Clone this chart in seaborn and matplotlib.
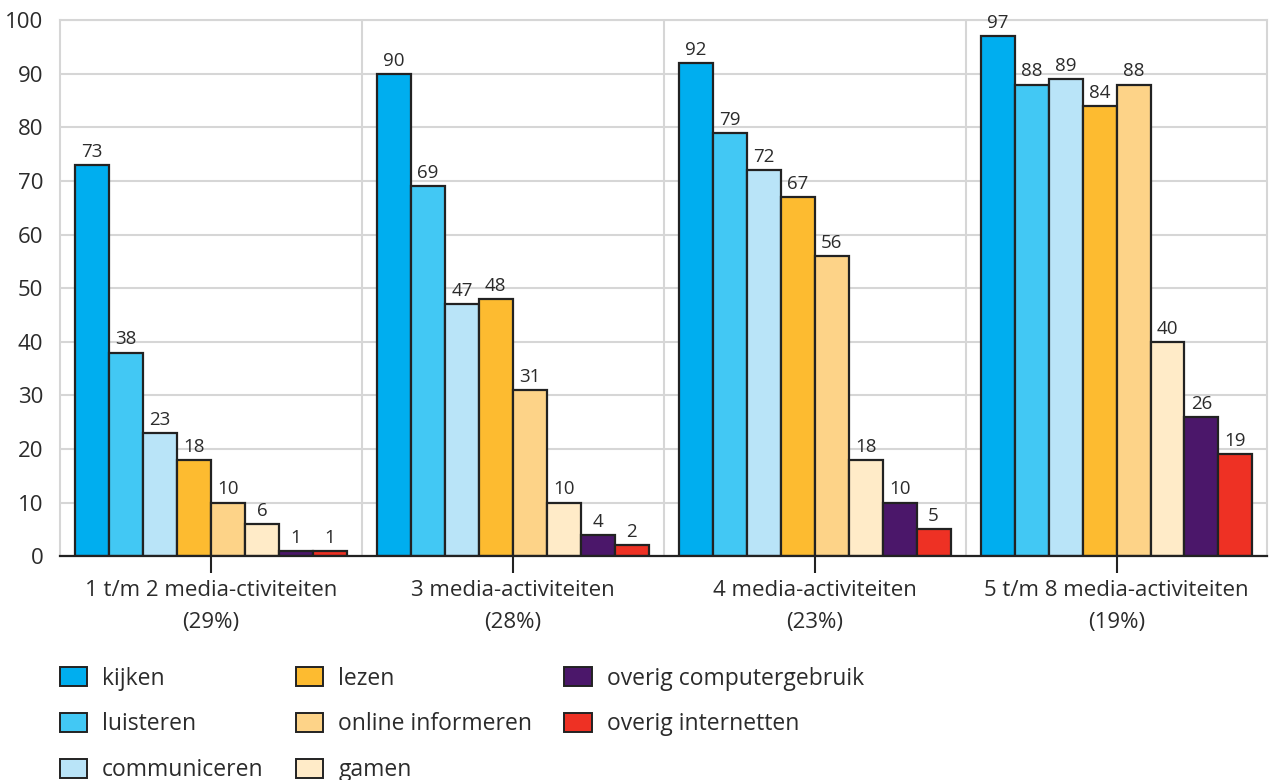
import matplotlib
matplotlib.use("Agg")
import matplotlib.pyplot as plt
from matplotlib.patches import Patch
import seaborn as sns
import pandas as pd

groups = [
    "1 t/m 2 media-ctiviteiten\n(29%)",
    "3 media-activiteiten\n(28%)",
    "4 media-activiteiten\n(23%)",
    "5 t/m 8 media-activiteiten\n(19%)",
]
series = [
    "kijken", "luisteren", "communiceren", "lezen",
    "online informeren", "gamen", "overig computergebruik", "overig internetten",
]
kijken = [73, 90, 92, 97]
luisteren = [38, 69, 79, 88]
communiceren = [23, 47, 72, 89]
lezen = [18, 48, 67, 84]
online_informeren = [10, 31, 56, 88]
gamen = [6, 10, 18, 40]
overig_computergebruik = [1, 4, 10, 26]
overig_internetten = [1, 2, 5, 19]
colors = ["#00AEEF", "#42C8F4", "#B9E4F8", "#FDBB30",
          "#FDD388", "#FFEBC8", "#4B176A", "#EE3124"]

values = [kijken, luisteren, communiceren, lezen, online_informeren,
          gamen, overig_computergebruik, overig_internetten]
rows = []
for name, vals in zip(series, values):
    for g, v in zip(groups, vals):
        rows.append({"groep": g, "activiteit": name, "waarde": v})
df = pd.DataFrame(rows)

sns.set_theme(style="white")
plt.rcParams["font.family"] = ["Open Sans", "DejaVu Sans"]
text_color = "#2b2b2b"

fig = plt.figure(figsize=(12.69, 7.80), dpi=100)
ax = fig.add_axes([0.0473, 0.287, 0.9515, 0.687])

palette = dict(zip(series, colors))
sns.barplot(data=df, x="groep", y="waarde", hue="activiteit",
            order=groups, hue_order=series, palette=palette,
            width=0.9, edgecolor="#222222", linewidth=1.6,
            saturation=1, legend=False, ax=ax)

for cont in ax.containers:
    ax.bar_label(cont, fmt="%d", padding=3, fontsize=13.5, color=text_color)

ax.set_ylim(0, 100)
ax.set_xlim(-0.5, 3.5)
ax.set_yticks(range(0, 101, 10))
ax.set_xlabel("")
ax.set_ylabel("")

# horizontal gridlines and vertical group separators
ax.set_xticks([0.5, 1.5, 2.5], minor=True)
ax.grid(True, axis="y", color="#d6d6d6", linewidth=1.5)
ax.grid(True, axis="x", which="minor", color="#d6d6d6", linewidth=1.5)
ax.grid(False, axis="x", which="major")
ax.set_axisbelow(True)

for side in ["left", "top", "right"]:
    ax.spines[side].set_color("#d6d6d6")
    ax.spines[side].set_linewidth(1.5)
ax.spines["bottom"].set_color("#222222")
ax.spines["bottom"].set_linewidth(1.6)

ax.tick_params(axis="x", which="major", length=12, width=1.5, color="#222222",
               direction="out", bottom=True, labelsize=16, labelcolor=text_color, pad=5)
ax.tick_params(axis="x", which="minor", length=0)
ax.tick_params(axis="y", length=0, labelsize=16, labelcolor=text_color, pad=12)
for lbl in ax.get_xticklabels():
    lbl.set_linespacing(1.7)

handles = [Patch(facecolor=c, edgecolor="#222222", linewidth=1.4, label=s)
           for s, c in zip(series, colors)]
fig.legend(handles=handles, ncol=3, loc="upper left",
           bbox_to_anchor=(0.0398, 0.157), frameon=False,
           fontsize=16.5, labelcolor=text_color,
           handlelength=1.2, handleheight=0.87, handletextpad=0.65,
           columnspacing=1.4, labelspacing=0.95, borderaxespad=0)

fig.savefig("out.png", dpi=100)
